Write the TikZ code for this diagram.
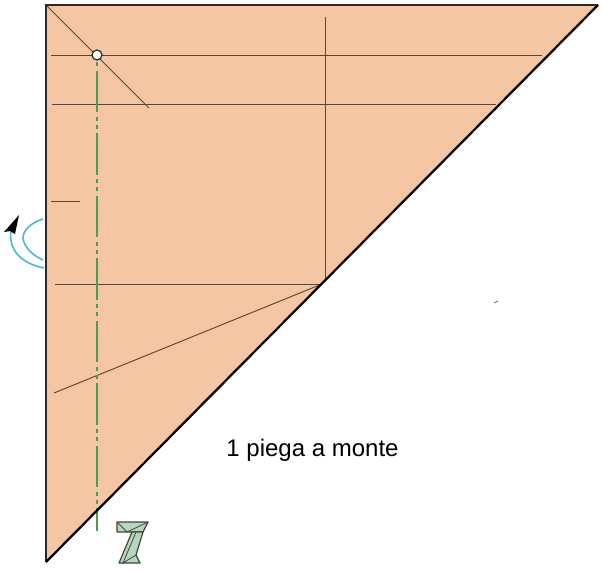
\documentclass[tikz,border=0pt]{standalone}
\usepackage{fontspec}
\setmainfont{Liberation Sans}
\definecolor{paper}{HTML}{F5C6A4}
\definecolor{crease}{HTML}{5E4433}
\definecolor{edge}{HTML}{2A2A2A}
\definecolor{mountain}{HTML}{4F9A55}
\definecolor{swirl}{HTML}{4DB8D2}
\definecolor{icon}{HTML}{B9D5BD}
\definecolor{iconline}{HTML}{3C4A3E}
\tikzset{
  creaseline/.style={draw=crease,line width=0.7pt},
  mountainline/.style={draw=mountain,line width=1.5pt,dash pattern=on 3pt off 3.5pt on 31pt off 3.5pt on 3pt off 2.9pt},
  swirlline/.style={draw=swirl,line width=1.2pt},
  iconshape/.style={draw=iconline,fill=icon,line width=0.9pt,line join=round},
  iconinner/.style={draw=iconline,line width=0.6pt},
  labeltext/.style={font=\fontsize{18pt}{20pt}\selectfont,text=black,inner sep=0pt}
}
\begin{document}
\begin{tikzpicture}[x=0.75pt,y=-0.75pt]
\useasboundingbox (0,0) rectangle (602,570);
% corners
\coordinate (tl) at (46,5);
\coordinate (tr) at (598,5);
\coordinate (bl) at (46,562);
\coordinate (elbow) at (322,284);
% paper
\fill[paper] (tl) -- (tr) -- (bl) -- cycle;
% creases
\coordinate (a1) at (51,55);   \coordinate (a2) at (542,55);
\coordinate (b1) at (52,104);  \coordinate (b2) at (496,104);
\coordinate (c1) at (325,17);  \coordinate (c2) at (325,281);
\coordinate (d1) at (55,284);
\coordinate (e1) at (54,393);
\coordinate (f1) at (149,108);
\coordinate (g1) at (51,201);  \coordinate (g2) at (80,201);
\draw[creaseline] (a1) -- (a2);
\draw[creaseline] (b1) -- (b2);
\draw[creaseline] (c1) -- (c2);
\draw[creaseline] (d1) -- (elbow);
\draw[creaseline] (e1) -- (elbow);
\draw[creaseline] (tl) -- (f1);
\draw[creaseline] (g1) -- (g2);
% mountain fold line
\coordinate (m1) at (97,62);
\coordinate (m2) at (97,531);
\draw[mountainline] (m1) -- (m2);
% border
\draw[edge,line width=1.7pt,line join=miter] (bl) -- (tl) -- (tr);
\draw[black,line width=1.7pt] (tr) -- (bl);
% reference point
\node[circle,draw=edge,fill=white,line width=0.9pt,minimum size=7.5pt,inner sep=0pt] (pt) at (97,55) {};
% turn-over arrow
\draw[swirlline] (44,268) .. controls (24,264) and (8,252) .. (11,231);
\draw[swirlline] (43,219) .. controls (30,223) and (23,231) .. (23,238) .. controls (24,248) and (34,256) .. (43,260);
\fill[black] (19,215) -- (4,232) -- (10,231) -- (15,234) -- cycle;
% speck
\draw[gray,line width=0.7pt] (494,303) -- (498,301);
% label
\node[labeltext] (lab) at (312.5,450.5) {1 piega a monte};
% icon
\draw[iconshape] (117,522) -- (148,522) -- (143,532) -- (117,532) -- cycle;
\draw[iconshape] (132,532) -- (143,532) -- (136,555) -- (140,563) -- (119,563) -- cycle;
\draw[iconinner] (117,522) -- (127,532) -- (148,522);
\draw[iconinner] (136,532) -- (123,563) -- (136,555);
\end{tikzpicture}
\end{document}
